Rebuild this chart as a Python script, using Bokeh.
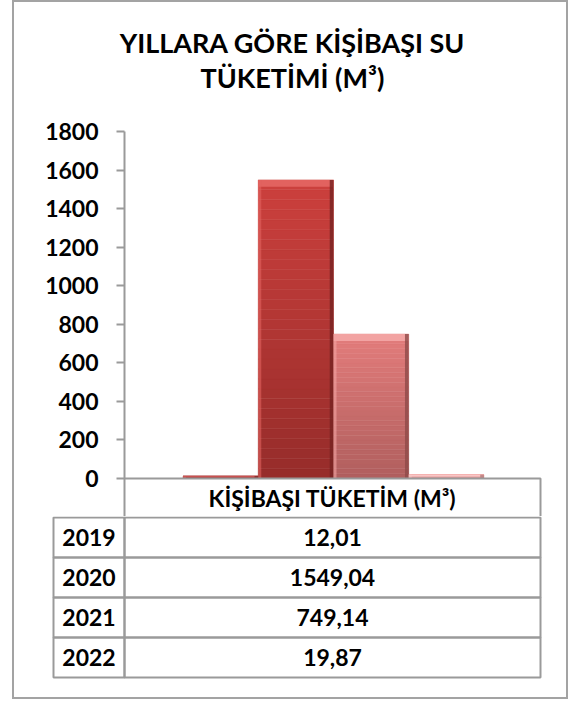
import numpy as np
from bokeh.plotting import figure
from bokeh.models import FactorRange, Range1d, FixedTicker, Title, ColumnDataSource
from bokeh.layouts import column
from bokeh.embed import file_html
from bokeh.resources import INLINE
from bokeh.core.properties import value
from bokeh.transform import dodge

# ---------------- data ----------------
TITLE_LINES = ["YILLARA GÖRE KİŞİBAŞI SU", "TÜKETİMİ (M³)"]
SERIES_NAME = "KİŞİBAŞI TÜKETİM (M³)"
YEARS = ["2019", "2020", "2021", "2022"]
VALUES = [12.01, 1549.04, 749.14, 19.87]
Y_TICKS = [0, 200, 400, 600, 800, 1000, 1200, 1400, 1600, 1800]

# ---------------- style ----------------
FONT = "Lato"
GRAY = "#9a9a9a"
COL_TOP = ["#b03a38", "#cc403d", "#e37c7b", "#f3aaa9"]
COL_BOT = ["#8e2b29", "#962c2a", "#b05f5e", "#d99292"]
COL_HI = ["#d25a58", "#e2625f", "#f2a3a2", "#f8c6c5"]
COL_EDGE = ["#6e1f1e", "#752322", "#8e4a49", "#b77a7a"]
W = 552


def hex2rgb(h):
    h = h.lstrip("#")
    return np.array([int(h[i:i + 2], 16) for i in (0, 2, 4)], dtype=float)


def mix(a, b, t):
    c = hex2rgb(a) * (1 - t) + hex2rgb(b) * t
    return "#%02x%02x%02x" % tuple(int(round(v)) for v in c)


common = dict(output_backend="svg", toolbar_location=None, frame_align=False)

# ---------------- title figure ----------------
pT = figure(width=W, height=113, x_range=Range1d(0, 1), y_range=Range1d(0, 1),
            x_axis_location=None, y_axis_location=None,
            min_border_left=4, min_border_right=0, min_border_top=91, min_border_bottom=0,
            **common)
pT.outline_line_color = None
pT.grid.visible = False
for line in reversed(TITLE_LINES):
    pT.add_layout(Title(text=line, align="center", text_font=FONT, text_font_size="27px",
                        text_font_style="bold", text_color="black", standoff=0), "above")

# ---------------- chart figure (with table header row) ----------------
PX_UNIT = Y_TICKS[-1] / 347.0          # data units per pixel on the value axis
Y0 = -38 * PX_UNIT                      # frame bottom (just below the header row text)
HEADER_H = 39 * PX_UNIT
RPAD = 0.389
x_lo = -RPAD * len(YEARS) / 2
x_hi = len(YEARS) + RPAD * len(YEARS) / 2
x_tab_r = x_hi - 2 * (len(YEARS) + RPAD * len(YEARS)) / 418.0

pA = figure(width=W, height=401,
            x_range=FactorRange(*YEARS, range_padding=RPAD),
            y_range=Range1d(Y0, Y_TICKS[-1]),
            x_axis_location=None,
            min_border_left=110, min_border_right=24, min_border_top=16, min_border_bottom=0,
            **common)
pA.outline_line_color = None
pA.grid.visible = False

N = 30
for i, (yr, v) in enumerate(zip(YEARS, VALUES)):
    tops, bots, cols = [], [], []
    for k in range(N):
        bots.append(v * k / N)
        tops.append(v * (k + 1) / N)
        cols.append(mix(COL_BOT[i], COL_TOP[i], (k + 0.5) / N))
    src = ColumnDataSource(dict(x=[yr] * N, top=tops, bottom=bots, color=cols))
    pA.vbar(x="x", top="top", bottom="bottom", width=1.0, fill_color="color",
            line_color="color", line_width=0.5, source=src)

bev = 36.0
src_b = ColumnDataSource(dict(
    x=YEARS, top=VALUES, bev=[max(v - bev, v * 0.5) for v in VALUES],
    hi=COL_HI[:len(YEARS)], edge=COL_EDGE[:len(YEARS)]))
pA.vbar(x="x", top="top", bottom="bev", width=1.0, fill_color="hi", line_color=None, source=src_b)
pA.vbar(x=dodge("x", 0.475, range=pA.x_range), top="top", bottom=0, width=0.05,
        fill_color="edge", line_color=None, fill_alpha=0.8, source=src_b)
pA.vbar(x=dodge("x", -0.48, range=pA.x_range), top="top", bottom=0, width=0.04,
        fill_color="hi", line_color=None, fill_alpha=0.6, source=src_b)

# header row of the data table (top + right borders; left is the axis line)
pA.quad(left=[x_lo - 1], right=[x_tab_r], top=[0], bottom=[Y0 - 200], fill_color=None,
        line_color=GRAY, line_width=2)
txt = dict(text_font=value(FONT), text_font_style="bold", text_font_size="23px",
           text_color="black", text_align="center", text_baseline="middle")
pA.text(x=[(x_lo + x_tab_r) / 2], y=[-HEADER_H / 2], text=[SERIES_NAME], **txt)

ax = pA.yaxis[0]
ax.ticker = FixedTicker(ticks=Y_TICKS)
ax.bounds = (Y0, Y_TICKS[-1])
ax.axis_line_color = GRAY
ax.axis_line_width = 2
ax.major_tick_line_color = GRAY
ax.major_tick_line_width = 2
ax.major_tick_out = 8
ax.major_tick_in = 0
ax.minor_tick_line_color = None
ax.major_label_standoff = 18
ax.major_label_text_font = FONT
ax.major_label_text_font_style = "bold"
ax.major_label_text_font_size = "23px"
ax.major_label_text_color = "black"

# ---------------- table figure ----------------
LW = 71
VW = 416
n = len(YEARS)
pB = figure(width=W, height=181, x_range=Range1d(-LW - 2, VW + 2),
            y_range=Range1d(-0.05, n + 0.025),
            x_axis_location=None, y_axis_location=None,
            min_border_left=37, min_border_right=24, min_border_top=0, min_border_bottom=18,
            **common)
pB.outline_line_color = None
pB.grid.visible = False

rows_top = [n - i for i in range(n)]
rows_bot = [n - i - 1 for i in range(n)]
pB.quad(left=[-LW] * n, right=[0] * n, top=rows_top, bottom=rows_bot,
        fill_color=None, line_color=GRAY, line_width=2)
pB.quad(left=[0] * n, right=[VW] * n, top=rows_top, bottom=rows_bot,
        fill_color=None, line_color=GRAY, line_width=2)

ymid = [n - i - 0.5 for i in range(n)]
pB.text(x=[-LW / 2] * n, y=ymid, text=YEARS, **txt)
labels = [("%.2f" % v).replace(".", ",") for v in VALUES]
pB.text(x=[VW / 2] * n, y=ymid, text=labels, **txt)

layout = column(pT, pA, pB, spacing=0,
                styles={"border": "2px solid #a3a3a3", "margin-left": "12px", "background": "white"})

open("out.html", "w").write(file_html(layout, INLINE))
